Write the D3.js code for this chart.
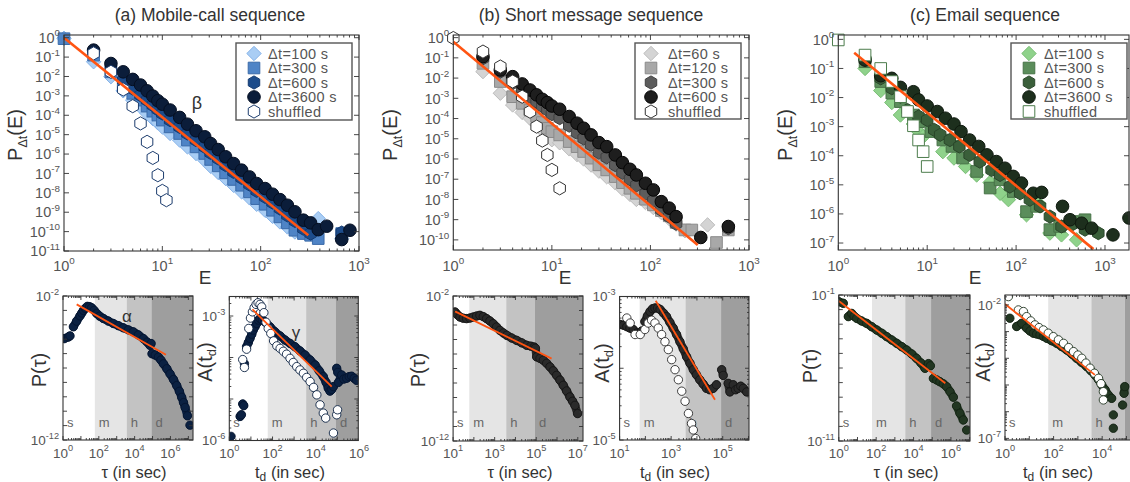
<!DOCTYPE html>
<html><head><meta charset="utf-8">
<script src="https://cdn.jsdelivr.net/npm/d3@7"></script>
<style>body{margin:0;background:#fff;overflow:hidden} text{font-family:"Liberation Sans",Arial,sans-serif} .reg{opacity:0.99}</style>
</head><body><script>
// ---------------- DATA ----------------
// Top row: P_Δt(E) vs E ; values stored as log10(P)
const titles = ["(a) Mobile-call sequence","(b) Short message sequence","(c) Email sequence"];

// (a) Mobile-call
const a_labels = ["Δt=100 s","Δt=300 s","Δt=600 s","Δt=3600 s","shuffled"];
const a_d_E = [1,2,3,4,5,6,7,8,9,10,12,15,18,22,27,31,37,44,53,64,77,91,111,132,157,187,223,385,667];
const a_d_logP = [-0.03,-1.24,-2.01,-2.74,-3.22,-3.56,-3.91,-4.17,-4.39,-4.60,-4.94,-5.28,-5.63,-5.97,-6.32,-6.63,-6.95,-7.26,-7.61,-7.95,-8.26,-8.59,-8.90,-9.21,-9.50,-9.76,-10.02,-9.33,-10.36];
const a_s_E = [1,2,3,4,5,6,7,8,9,10,12,15,18,22,27,31,37,44,53,64,77,91,111,132,157,187,223,272,322,385,667];
const a_s_logP = [-0.05,-0.90,-1.76,-2.44,-2.87,-3.22,-3.53,-3.79,-3.99,-4.25,-4.60,-4.94,-5.28,-5.63,-5.97,-6.28,-6.61,-6.97,-7.31,-7.61,-7.95,-8.30,-8.59,-8.90,-9.24,-9.55,-9.93,-10.10,-10.19,-10.36,-10.10];
const a_h_E = [2,3,4,5,6,7,8,9,10,12,15,18,22,27,31,37,44,53,64,77,91,111,132,157,187,223,272,322,667];
const a_h_logP = [-0.72,-1.58,-2.19,-2.62,-2.96,-3.22,-3.48,-3.70,-3.91,-4.25,-4.60,-4.94,-5.28,-5.63,-5.94,-6.23,-6.57,-6.92,-7.23,-7.57,-7.90,-8.21,-8.50,-8.81,-9.16,-9.45,-9.85,-10.10,-10.05];
const a_c_E = [2,3,4,5,6,7,8,9,10,12,15,18,22,27,31,37,44,53,64,77,91,111,132,157,187,223,272,322,385,469,667,809];
const a_c_logP = [-0.64,-1.33,-1.76,-2.15,-2.44,-2.74,-3.01,-3.25,-3.43,-3.73,-4.11,-4.46,-4.80,-5.11,-5.46,-5.77,-6.14,-6.49,-6.83,-7.18,-7.52,-7.78,-8.07,-8.35,-8.64,-8.98,-9.41,-9.55,-9.90,-9.72,-10.41,-9.93];
const a_sh_E = [2,3,4,5,6,7,8,9,10,11];
const a_sh_logP = [-0.81,-1.76,-2.67,-3.53,-4.42,-5.37,-6.20,-7.09,-7.90,-8.38];
const a_fit_E = [1,305], a_fit_logP = [0,-10.19];

// (b) Short message
const b_labels = ["Δt=60 s","Δt=120 s","Δt=300 s","Δt=600 s","shuffled"];
const b_d_E = [2,3,4,5,6,7,8,9,10,12,15,18,21,25,30,36,44,52,62,72,89,107,129,155,182,224,380];
const b_d_logP = [-1.68,-2.75,-3.33,-3.70,-3.99,-4.30,-4.58,-4.85,-5.05,-5.20,-5.50,-5.78,-6.00,-6.30,-6.60,-6.88,-7.18,-7.48,-7.75,-8.00,-8.15,-8.40,-8.65,-8.95,-9.22,-9.55,-9.26];
const b_s_E = [2,3,4,5,6,7,8,9,10,12,15,18,21,25,30,36,44,52,62,72,89,107,129,155,182,224,263,468,617];
const b_s_logP = [-1.27,-2.17,-2.92,-3.25,-3.58,-3.90,-4.20,-4.48,-4.65,-4.81,-5.14,-5.39,-5.63,-5.96,-6.29,-6.54,-6.87,-7.17,-7.45,-7.70,-7.99,-8.27,-8.55,-8.81,-9.14,-9.51,-9.51,-10.13,-9.51];
const b_h_E = [2,3,4,5,6,7,8,9,10,12,15,18,21,25,30,36,44,52,62,72,89,107,129,155,182,617];
const b_h_logP = [-1.02,-1.68,-2.25,-2.62,-2.92,-3.16,-3.38,-3.57,-3.78,-3.98,-4.35,-4.70,-4.98,-5.30,-5.68,-5.92,-6.30,-6.68,-7.00,-7.30,-7.72,-8.05,-8.52,-8.85,-9.20,-9.42];
const b_c_E = [2,3,4,5,6,7,8,9,10,12,15,18,21,25,30,36,44,52,62,72,89,107,129,155,182,324,617];
const b_c_logP = [-0.94,-1.60,-1.93,-2.29,-2.59,-2.83,-3.05,-3.21,-3.38,-3.54,-3.90,-4.23,-4.48,-4.81,-5.19,-5.39,-5.80,-6.18,-6.51,-6.79,-7.20,-7.53,-8.11,-8.43,-8.85,-9.88,-9.34];
const b_sh_E = [1,2,3,4,5,6,7,8,9,10,12];
const b_sh_logP = [-0.02,-0.69,-1.43,-2.17,-2.92,-3.66,-4.40,-5.09,-5.80,-6.54,-7.45];
const b_fit_E = [1,302], b_fit_logP = [-0.2,-10.25];

// (c) Email
const c_labels = ["Δt=100 s","Δt=300 s","Δt=600 s","Δt=3600 s","shuffled"];
const c_d_E = [2,3,4,5,7,8,9,15,20,27,36,51,66,82,131,178,240,324,479];
const c_d_logP = [-1.0,-1.76,-2.17,-2.60,-2.91,-3.17,-3.34,-3.86,-4.08,-4.37,-4.66,-4.92,-5.29,-5.51,-6.03,-5.63,-6.66,-6.72,-6.89];
const c_s_E = [2,3,4,5,7,8,11,15,19,25,36,51,66,93,131,170,240,309,437,596];
const c_s_logP = [-0.77,-1.45,-1.85,-2.14,-2.60,-2.83,-3.17,-3.46,-3.68,-4.08,-4.54,-5.11,-4.83,-5.23,-5.92,-5.74,-6.54,-6.43,-6.26,-6.20];
const c_h_E = [2,3,4,5,6,8,10,12,14,18,23,30,39,53,66,85,111,143,186,240,324,422,596,841];
const c_h_logP = [-0.71,-1.34,-1.68,-1.97,-2.43,-2.65,-2.77,-3.11,-3.28,-3.46,-3.68,-3.97,-4.20,-4.49,-4.66,-5.06,-5.29,-5.51,-5.74,-6.09,-6.43,-6.37,-6.54,-6.66];
const c_c_E = [2,3,4,5,7,8,10,13,16,20,24,30,38,47,60,75,93,115,156,194,333,404,546,708,1230,1860];
const c_c_logP = [-0.71,-1.25,-1.34,-1.65,-1.80,-2.08,-2.29,-2.48,-2.71,-2.91,-3.17,-3.46,-3.68,-3.97,-4.20,-4.43,-4.71,-4.94,-5.29,-5.26,-5.74,-6.20,-6.32,-6.49,-6.72,-6.14];
const c_sh_E = [1,2,3,4,5,6,7,8,9,10];
const c_sh_logP = [-0.02,-0.54,-1.0,-1.45,-1.97,-2.48,-2.97,-3.46,-3.86,-4.37];
const c_fit_E = [1.51,741], c_fit_logP = [-0.46,-7.21];

// Bottom row: [log10 time, log10 value]
const regionEdges = [60, 3600, 86400];   // minute, hour, day (s)
const regionNames = ["s","m","h","d"];

const aP = [[0.07,-4.96],[0.30,-4.85],[0.39,-4.77],[0.58,-4.14],[0.76,-3.75],[0.95,-3.38],[1.05,-3.18],[1.14,-3.0],[1.25,-2.85],[1.36,-2.72],[1.48,-2.74],[1.60,-2.82],[1.74,-3.0],[1.88,-3.21],[2.05,-3.40],[2.25,-3.56],[2.53,-3.74],[2.81,-3.91],[3.09,-4.06],[3.37,-4.21],[3.65,-4.35],[3.93,-4.49],[4.21,-4.70],[4.49,-4.96],[4.70,-5.20],[4.86,-5.43],[4.92,-5.30],[4.97,-6.01],[5.15,-6.10],[5.33,-6.24],[5.47,-6.45],[5.61,-6.71],[5.80,-7.05],[5.98,-7.41],[6.17,-7.80],[6.35,-8.22],[6.50,-8.62],[6.63,-9.04],[6.73,-9.40],[6.82,-9.74],[6.95,-10.32],[7.09,-10.97]];
const aA_f = [[0.08,-5.90],[0.50,-5.42],[0.56,-5.38],[0.62,-5.12],[0.67,-5.16],[0.70,-4.15],[0.80,-3.74],[0.88,-3.64],[0.96,-3.54],[1.04,-3.44],[1.11,-3.34],[1.19,-3.26],[1.27,-3.18],[1.35,-3.10],[1.42,-3.06],[1.53,-3.10],[1.65,-3.14],[1.88,-3.26],[2.11,-3.38],[2.35,-3.48],[2.58,-3.58],[2.81,-3.66],[3.04,-3.74],[3.27,-3.84],[3.50,-3.94],[3.74,-4.06],[3.97,-4.18],[4.16,-4.32],[4.35,-4.46],[4.48,-4.60],[4.58,-4.74],[4.66,-4.81],[4.74,-4.77],[4.82,-4.70],[4.97,-4.26],[5.02,-4.36],[5.05,-4.60],[5.20,-4.42],[5.30,-4.52],[5.43,-4.50],[5.55,-4.46],[5.66,-4.45],[5.78,-4.50],[5.89,-4.55]];
const aA_o = [[0.62,-4.05],[0.70,-4.24],[0.80,-3.80],[0.90,-3.30],[0.98,-3.05],[1.07,-2.90],[1.15,-2.80],[1.24,-2.72],[1.33,-2.68],[1.42,-2.72],[1.50,-2.78],[1.60,-2.92],[1.70,-3.15],[1.80,-3.30],[1.92,-3.42],[2.05,-3.60],[2.20,-3.72],[2.35,-3.78],[2.50,-3.85],[2.65,-3.92],[2.81,-4.02],[2.96,-4.12],[3.12,-4.22],[3.27,-4.30],[3.43,-4.38],[3.58,-4.48],[3.74,-4.58],[3.90,-4.72],[4.05,-4.90],[4.20,-5.14],[4.35,-5.34],[4.46,-5.46],[4.82,-5.82],[4.97,-5.38],[5.01,-5.26]];
const bP = [[1.09,-3.10],[1.20,-3.28],[1.33,-3.45],[1.49,-3.53],[1.65,-3.56],[1.81,-3.52],[1.97,-3.45],[2.13,-3.38],[2.29,-3.33],[2.45,-3.42],[2.61,-3.56],[2.77,-3.72],[2.93,-3.91],[3.09,-4.14],[3.25,-4.37],[3.42,-4.55],[3.58,-4.71],[3.82,-4.90],[4.06,-5.06],[4.30,-5.23],[4.54,-5.40],[4.74,-5.46],[4.90,-5.52],[4.96,-5.60],[5.02,-6.20],[5.18,-6.30],[5.34,-6.43],[5.50,-6.64],[5.66,-6.89],[5.82,-7.16],[5.98,-7.47],[6.14,-7.80],[6.30,-8.16],[6.46,-8.55],[6.62,-8.96],[6.75,-9.26],[6.86,-9.54],[6.99,-10.11]];
const bA_f = [[1.02,-3.39],[1.15,-3.40],[1.28,-3.42],[1.40,-3.44],[1.53,-3.46],[1.66,-3.51],[1.76,-3.52],[1.86,-3.48],[1.98,-3.35],[2.08,-3.27],[2.18,-3.21],[2.28,-3.17],[2.37,-3.16],[2.47,-3.16],[2.57,-3.18],[2.70,-3.23],[2.82,-3.28],[2.95,-3.36],[3.08,-3.44],[3.21,-3.53],[3.34,-3.63],[3.47,-3.73],[3.60,-3.84],[3.73,-3.93],[3.86,-4.02],[3.98,-4.09],[4.11,-4.16],[4.24,-4.22],[4.37,-4.28],[4.50,-4.30],[4.63,-4.28],[4.76,-4.23],[4.96,-4.02],[5.02,-4.10],[5.21,-4.21],[5.28,-4.33],[5.41,-4.23],[5.50,-4.30],[5.60,-4.28],[5.70,-4.25],[5.80,-4.28],[5.93,-4.33]];
const bA_o = [[1.28,-3.30],[1.41,-3.37],[1.60,-3.53],[1.80,-3.53],[1.98,-3.46],[2.11,-3.37],[2.24,-3.33],[2.37,-3.37],[2.50,-3.44],[2.63,-3.53],[2.76,-3.63],[2.89,-3.74],[3.02,-3.88],[3.15,-4.02],[3.28,-4.16],[3.41,-4.32],[3.54,-4.46],[3.67,-4.63],[3.79,-4.77],[3.86,-4.86],[3.95,-4.98]];
const cP = [[0.0,-1.46],[0.24,-1.57],[0.51,-2.48],[0.69,-2.26],[0.82,-2.45],[0.96,-2.60],[1.22,-2.78],[1.49,-2.94],[1.76,-3.17],[2.03,-3.40],[2.30,-3.62],[2.56,-3.85],[2.83,-4.08],[3.10,-4.31],[3.37,-4.54],[3.63,-4.77],[3.90,-5.04],[4.16,-5.34],[4.40,-5.66],[4.61,-6.02],[4.80,-5.70],[4.90,-5.85],[5.06,-6.71],[5.24,-6.82],[5.41,-6.94],[5.59,-7.08],[5.77,-7.28],[5.95,-7.62],[6.13,-8.0],[6.30,-8.6],[6.48,-9.1],[6.66,-9.56],[6.84,-10.25]];
const cA_f = [[0.2,-2.5],[0.48,-2.81],[0.69,-2.69],[0.89,-2.87],[1.03,-2.98],[1.17,-3.06],[1.30,-3.09],[1.44,-3.12],[1.58,-3.18],[1.72,-3.25],[1.92,-3.34],[2.13,-3.44],[2.33,-3.56],[2.54,-3.69],[2.75,-3.84],[2.95,-4.0],[3.15,-4.15],[3.36,-4.31],[3.53,-4.46],[3.70,-4.62],[3.85,-4.80],[3.98,-5.0],[4.12,-5.18],[4.25,-5.37],[4.39,-5.5],[4.46,-6.12],[4.46,-6.62],[4.84,-5.75],[4.90,-5.31],[4.93,-5.06]];
const cA_o = [[0.14,-1.69],[0.55,-2.19],[0.76,-2.25],[0.89,-2.44],[1.06,-2.60],[1.23,-2.75],[1.40,-2.85],[1.58,-2.94],[1.78,-3.06],[1.99,-3.19],[2.20,-3.31],[2.41,-3.44],[2.62,-3.60],[2.82,-3.75],[3.0,-3.88],[3.16,-4.0],[3.33,-4.18],[3.5,-4.37],[3.68,-4.56],[3.85,-4.75],[3.95,-4.95],[4.05,-5.25],[4.05,-5.56]];
const fits = {aP:[[0.763,-2.58],[5.75,-6.08]], aA:[[1.07,-2.84],[4.74,-4.70]], bP:[[1.09,-3.06],[5.74,-6.32]],
              bA:[[2.4,-3.06],[4.7,-4.44]], cP:[[0.0,-1.41],[5.7,-7.05]], cA:[[0.0,-1.97],[3.7,-4.62]]};

// ---------------- DRAWING ----------------
const W = 1130, H = 482;
const svg = d3.select("body").append("svg").attr("width", W).attr("height", H);
const ORANGE = "#ff5412";
const p10 = v => Math.pow(10, v);
let clipN = 0;

function shapePath(type, r) {
  if (type === "circle") return d3.symbol(d3.symbolCircle, Math.PI * r * r)();
  if (type === "square") return `M${-r},${-r}H${r}V${r}H${-r}Z`;
  if (type === "diamond") return `M0,${-r}L${r},0L0,${r}L${-r},0Z`;
  if (type === "hex") {
    let s = "";
    for (let i = 0; i < 6; i++) { const a = Math.PI / 2 + i * Math.PI / 3; s += (i ? "L" : "M") + (r * Math.cos(a)).toFixed(2) + "," + (r * Math.sin(a)).toFixed(2); }
    return s + "Z";
  }
}

function tickLabel(g, x, y, exp, anchor, fs) {
  const t = g.append("text").attr("x", x).attr("y", y).attr("text-anchor", anchor)
    .attr("font-size", fs).attr("fill", "#555");
  t.append("tspan").text("10");
  t.append("tspan").attr("dy", -fs * 0.45).attr("font-size", fs * 0.68).text(exp);
}

function makePanel(c) {
  const x = d3.scaleLog().domain([p10(c.xdom[0]), p10(c.xdom[1])]).range([c.x0, c.x1]);
  const y = d3.scaleLog().domain([p10(c.ydom[0]), p10(c.ydom[1])]).range([c.y1, c.y0]);
  const g = svg.append("g");
  const id = "clip" + (clipN++);
  g.append("clipPath").attr("id", id).append("rect").attr("x", c.x0).attr("y", c.y0).attr("width", c.x1 - c.x0).attr("height", c.y1 - c.y0);
  const inner = g.append("g").attr("clip-path", c.clip ? `url(#${id})` : null);
  return {x, y, g, inner, c};
}

function frame(P) {
  const {x, y, g, c} = P;
  const tk = g.append("g").attr("stroke", "#333").attr("stroke-width", 0.9);
  const xd = c.xdom, yd = c.ydom;
  for (let k = Math.floor(xd[0]); k <= Math.ceil(xd[1]); k++) for (let m = 1; m < 10; m++) {
    const lv = k + Math.log10(m);
    if (lv < xd[0] - 1e-6 || lv > xd[1] + 1e-6) continue;
    const L = m === 1 ? c.maj : c.min; const px = x(p10(lv));
    tk.append("line").attr("x1", px).attr("x2", px).attr("y1", c.y1).attr("y2", c.y1 - L);
    tk.append("line").attr("x1", px).attr("x2", px).attr("y1", c.y0).attr("y2", c.y0 + L);
  }
  for (let k = Math.floor(yd[0]); k <= Math.ceil(yd[1]); k++) for (let m = 1; m < 10; m++) {
    if (m > 1 && !c.yMinor) continue;
    const lv = k + Math.log10(m);
    if (lv < yd[0] - 1e-6 || lv > yd[1] + 1e-6) continue;
    const L = m === 1 ? c.maj : c.min; const py = y(p10(lv));
    tk.append("line").attr("y1", py).attr("y2", py).attr("x1", c.x0).attr("x2", c.x0 + L);
    tk.append("line").attr("y1", py).attr("y2", py).attr("x1", c.x1).attr("x2", c.x1 - L);
  }
  g.append("rect").attr("x", c.x0).attr("y", c.y0).attr("width", c.x1 - c.x0).attr("height", c.y1 - c.y0)
    .attr("fill", "none").attr("stroke", "#333").attr("stroke-width", 1.1);
  c.xLab.forEach(e => tickLabel(g, x(p10(e)), c.xLabY, e, "middle", c.fs));
  c.yLab.forEach(e => tickLabel(g, c.x0 - 4, y(p10(e)) + c.fs * 0.36, e, "end", c.fs));
}

function drawSeries(P, E, logP, type, r, fill, stroke) {
  P.inner.append("g").selectAll("path").data(E.map((e, i) => [e, logP[i]])).join("path")
    .attr("d", shapePath(type, r))
    .attr("transform", d => `translate(${P.x(d[0])},${P.y(p10(d[1]))})`)
    .attr("fill", fill).attr("stroke", stroke).attr("stroke-width", 1);
}

function fitLine(P, pts, w) {
  P.inner.append("path").attr("d", d3.line().x(d => P.x(p10(d[0]))).y(d => P.y(p10(d[1])))(pts))
    .attr("fill", "none").attr("stroke", ORANGE).attr("stroke-width", w);
}

// ---------- TOP PANELS ----------
const topCfg = [
  {x0:64, x1:359, y0:35, y1:251, xdom:[0,3], ydom:[-11.0,0.14], leg:{x:236,y:43,w:116,h:77,mx:254,tx:268}, title:210, ylabX:22, eX:205, beta:true},
  {x0:453.3, x1:749, y0:35, y1:250, xdom:[0,3], ydom:[-10.5,0.13], leg:{x:635,y:43,w:106,h:76,mx:651,tx:668}, title:591, ylabX:397, eX:565},
  {x0:838.3, x1:1129, y0:35, y1:250, xdom:[0,3.27], ydom:[-7.24,0.15], leg:{x:1011,y:43,w:116,h:76,mx:1029,tx:1044}, title:985, ylabX:792, eX:975}
];
const topData = [
  {labels:a_labels, series:[[a_d_E,a_d_logP],[a_s_E,a_s_logP],[a_h_E,a_h_logP],[a_c_E,a_c_logP],[a_sh_E,a_sh_logP]], fit:[a_fit_E,a_fit_logP]},
  {labels:b_labels, series:[[b_d_E,b_d_logP],[b_s_E,b_s_logP],[b_h_E,b_h_logP],[b_c_E,b_c_logP],[b_sh_E,b_sh_logP]], fit:[b_fit_E,b_fit_logP]},
  {labels:c_labels, series:[[c_d_E,c_d_logP],[c_s_E,c_s_logP],[c_h_E,c_h_logP],[c_c_E,c_c_logP],[c_sh_E,c_sh_logP]], fit:[c_fit_E,c_fit_logP]}
];
const topStyles = [
  [["diamond",7.2,"#a9cdf4","#86b3e8"],["square",5.8,"#4f84c6","#3a6aa8"],["hex",6.6,"#1d4c8b","#143a70"],["circle",6.3,"#0b1d3a","#050f22"],["hex",6.6,"#ffffff","#1d3d6e"]],
  [["diamond",7.2,"#d4d4d4","#bcbcbc"],["square",5.8,"#a8a8a8","#8a8a8a"],["hex",6.6,"#5c5c5c","#404040"],["circle",6.3,"#1e1e1e","#050505"],["hex",6.6,"#ffffff","#333333"]],
  [["diamond",7.2,"#8fd28b","#79bd75"],["square",5.8,"#5b8d5b","#477247"],["hex",6.6,"#3a5f3a","#2a472a"],["circle",6.3,"#1d2f1d","#0e190e"],["square",5.8,"#ffffff","#4c7c4c"]]
];

topCfg.forEach((c, i) => {
  const cfg = Object.assign({maj:5, min:2.5, yMinor:false, fs:14.5, xLab:[0,1,2,3], yLab:d3.range(Math.ceil(c.ydom[0]), 1), xLabY:271, clip:false}, c);
  const P = makePanel(cfg);
  const D = topData[i], S = topStyles[i];
  D.series.forEach((s, j) => drawSeries(P, s[0], s[1], S[j][0], S[j][1], S[j][2], S[j][3]));
  fitLine(P, D.fit[0].map((e, k) => [Math.log10(e), D.fit[1][k]]), 2.6);
  frame(P);
  svg.append("text").attr("x", c.title).attr("y", 21).attr("text-anchor", "middle").attr("font-size", 17.5).attr("fill", "#333").text(titles[i]);
  svg.append("text").attr("x", c.eX).attr("y", 284).attr("text-anchor", "middle").attr("font-size", 19).attr("fill", "#333").text("E");
  const yl = svg.append("text").attr("transform", `translate(${c.ylabX},${135}) rotate(-90)`).attr("text-anchor", "middle").attr("font-size", 20).attr("fill", "#333");
  yl.append("tspan").text("P");
  yl.append("tspan").attr("dy", 5).attr("font-size", 12.5).text("Δt");
  yl.append("tspan").attr("dy", -5).text("(E)");
  // legend
  const L = c.leg;
  const lg = svg.append("g");
  lg.append("rect").attr("x", L.x).attr("y", L.y).attr("width", L.w).attr("height", L.h).attr("fill", "#fff").attr("stroke", "#555").attr("stroke-width", 1.4);
  D.labels.forEach((t, j) => {
    const yy = L.y + 10.5 + j * 14.5;
    lg.append("path").attr("d", shapePath(S[j][0], S[j][1])).attr("transform", `translate(${L.mx},${yy})`).attr("fill", S[j][2]).attr("stroke", S[j][3]);
    lg.append("text").attr("x", L.tx).attr("y", yy + 5).attr("font-size", 14.5).attr("letter-spacing", 0.35).attr("fill", "#555").text(t);
  });
  if (c.beta) svg.append("text").attr("x", 197).attr("y", 109).attr("text-anchor", "middle").attr("font-size", 18).attr("fill", "#333").text("β");
});

// ---------- BOTTOM PANELS ----------
const shade = ["#ffffff", "#e5e5e5", "#c3c3c3", "#9e9e9e"];
const botCfg = [
  {x0:63, x1:193, y0:296, y1:440, xdom:[0,7.26], ydom:[-12,-2], xLab:[0,2,4,6], yLab:[-12,-2], pts:[[aP,"f"]], fit:fits.aP, col:"#0b2142", st:"#061530", ylab:"P", ylx:46, yly:370, xlab:"tau", xlx:134, greek:["α",127,322]},
  {x0:229.3, x1:358.3, y0:296.5, y1:440.5, xdom:[0,5.97], ydom:[-6,-2.53], xLab:[0,2,4,6], yLab:[-6,-3], pts:[[aA_f,"f"],[aA_o,"o"]], fit:fits.aA, col:"#0b2142", st:"#061530", ylab:"A", ylx:212, yly:362, xlab:"td", xlx:290, greek:["γ",296,338], yMinor:true},
  {x0:453.1, x1:583, y0:296, y1:441, xdom:[1,7.25], ydom:[-12,-2], xLab:[1,3,5,7], yLab:[-12,-2], pts:[[bP,"f"]], fit:fits.bP, col:"#2a2a2a", st:"#151515", ylab:"P", ylx:425, yly:370, xlab:"tau", xlx:520},
  {x0:619.6, x1:749, y0:296.5, y1:440, xdom:[1,6.02], ydom:[-5,-3], xLab:[1,3,5], yLab:[-5,-3], pts:[[bA_f,"f"],[bA_o,"o"]], fit:fits.bA, col:"#2a2a2a", st:"#151515", ylab:"A", ylx:609, yly:363, xlab:"td", xlx:675, yMinor:true},
  {x0:838.8, x1:970, y0:295, y1:441, xdom:[0,7.02], ydom:[-11,-1], xLab:[0,2,4,6], yLab:[-11,-1], pts:[[cP,"f"]], fit:fits.cP, col:"#223622", st:"#132213", ylab:"P", ylx:817, yly:366, xlab:"tau", xlx:906},
  {x0:1005, x1:1134, y0:295, y1:440, xdom:[0,5.31], ydom:[-7.06,-1.63], xLab:[0,2,4], yLab:[-7,-2], pts:[[cA_f,"f"],[cA_o,"o"]], fit:fits.cA, col:"#223622", st:"#132213", ylab:"A", ylx:990, yly:362, xlab:"td", xlx:1058, yMinor:true}
];

botCfg.forEach(c => {
  const cfg = Object.assign({maj:4, min:2, yMinor:false, fs:13.5, xLabY:457.5, clip:true}, c);
  const P = makePanel(cfg);
  const edges = [p10(c.xdom[0] - 1)].concat(regionEdges).concat([p10(c.xdom[1] + 1)]);
  regionNames.forEach((n, k) => {
    const xa = Math.max(c.x0, P.x(edges[k])), xb = Math.min(c.x1, P.x(edges[k + 1]));
    P.inner.append("rect").attr("x", xa).attr("y", c.y0).attr("width", Math.max(0, xb - xa)).attr("height", c.y1 - c.y0).attr("fill", shade[k]);
    if (xa + 4 < c.x1 - 6) P.inner.append("text").attr("class", "reg").attr("x", xa + 4).attr("y", 427).attr("font-size", 13).attr("fill", "#666").text(n);
  });
  const r = 4.2;
  c.pts.forEach(([pts, kind]) => {
    const sx = d => P.x(p10(d[0])), sy = d => P.y(p10(d[1]));
    if (kind === "f") {
      let run = [pts[0]];
      const runs = [];
      for (let i = 1; i < pts.length; i++) {
        const a = pts[i - 1], b = pts[i];
        if (Math.hypot(sx(a) - sx(b), sy(a) - sy(b)) < 9) run.push(b); else { runs.push(run); run = [b]; }
      }
      runs.push(run);
      runs.filter(rn => rn.length > 1).forEach(rn => P.inner.append("path").attr("d", d3.line().x(sx).y(sy)(rn))
        .attr("fill", "none").attr("stroke", c.col).attr("stroke-width", 2 * r).attr("stroke-linecap", "round").attr("stroke-linejoin", "round"));
    }
    P.inner.append("g").selectAll("circle").data(pts).join("circle")
      .attr("cx", sx).attr("cy", sy).attr("r", r)
      .attr("fill", kind === "f" ? c.col : "#fff").attr("stroke", kind === "f" ? c.st : c.col).attr("stroke-width", 0.9);
  });
  fitLine(P, c.fit, 1.8);
  frame(P);
  const yl = svg.append("text").attr("transform", `translate(${c.ylx},${c.yly}) rotate(-90)`).attr("text-anchor", "middle").attr("font-size", 20).attr("fill", "#333");
  if (c.ylab === "P") { yl.text("P(τ)"); }
  else { yl.append("tspan").text("A(t"); yl.append("tspan").attr("dy", 4).attr("font-size", 13).text("d"); yl.append("tspan").attr("dy", -4).text(")"); }
  const xl = svg.append("text").attr("x", c.xlx).attr("y", 477.5).attr("text-anchor", "middle").attr("font-size", 16.5).attr("fill", "#333");
  if (c.xlab === "tau") xl.text("τ (in sec)");
  else { xl.append("tspan").text("t"); xl.append("tspan").attr("dy", 3).attr("font-size", 12).text("d"); xl.append("tspan").attr("dy", -3).text(" (in sec)"); }
  if (c.greek) svg.append("text").attr("x", c.greek[1]).attr("y", c.greek[2]).attr("text-anchor", "middle").attr("font-size", 17).attr("fill", "#333").text(c.greek[0]);
});
</script></body></html>
